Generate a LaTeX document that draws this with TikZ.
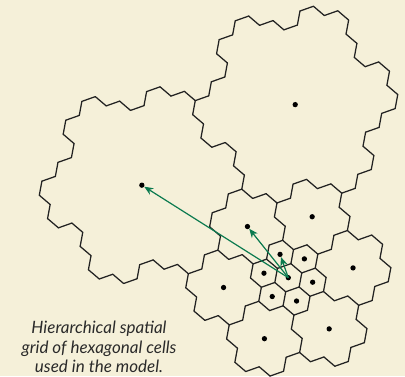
\documentclass[tikz,border=0pt]{standalone}
\usepackage{fontspec}
\newfontfamily\capfont{Lato}
\usetikzlibrary{arrows.meta}

\definecolor{paper}{HTML}{F5F0D9}
\definecolor{ink}{HTML}{222222}
\definecolor{arrowgreen}{HTML}{0B7A4F}
\definecolor{captext}{HTML}{2A2A2A}

% hexagonal lattice: centre spacing, base direction, centre of the root cell
\def\hexd{24.75}
\def\hexth{-10.5}
\def\ox{288.3}
\def\oy{-277.7}
\pgfmathsetmacro\hexR{\hexd/sqrt(3)}
\pgfmathsetmacro\ax{\hexd*cos(\hexth)}
\pgfmathsetmacro\ay{\hexd*sin(\hexth)}
\pgfmathsetmacro\wx{\hexd*cos(\hexth+60)}
\pgfmathsetmacro\wy{\hexd*sin(\hexth+60)}

% the seven members of an aggregate (axial offsets), at level 0 and level 1
\def\Ulist{0/0,1/0,0/1,-1/1,-1/0,0/-1,1/-1}
\def\Blist{0/0,2/1,-1/3,-3/2,-2/-1,1/-3,3/-2}
% level-2 aggregates that are drawn: offset / tag (C = the one subdivided)
\def\Slist{0/0/C,-5/8/U,-8/3/L}

\newcommand\setkey[3]{\expandafter\xdef\csname hk@#1@#2\endcsname{#3}}
\newcommand\drawedge{%
  \pgfmathsetmacro\pa{\hexth+60*\k-30}%
  \pgfmathsetmacro\pb{\hexth+60*\k+30}%
  \draw[hexline] ({\cx+\hexR*cos(\pa)},{\cy+\hexR*sin(\pa)})
    -- ({\cx+\hexR*cos(\pb)},{\cy+\hexR*sin(\pb)});}

\tikzset{
  hexline/.style={draw=ink,line width=1.25pt,line cap=round,line join=round},
  dot/.style={circle,fill=black,inner sep=0pt,minimum size=5.3pt},
  garrow/.style={draw=arrowgreen,line width=1.2pt,
    -{Stealth[length=9pt,width=7.5pt]}},
  caption/.style={text=captext,align=center,
    font=\capfont\itshape\fontsize{17}{19.5}\selectfont}
}

\begin{document}
\begin{tikzpicture}[x=1pt,y=1pt]
\fill[paper] (0,-376) rectangle (405,0);
\useasboundingbox (0,-376) rectangle (405,0);

% region key of every hexagon: single hexes in the root cell,
% level-1 aggregates around it, level-2 aggregates further out
\foreach \sm/\sn/\st in \Slist {
  \foreach \bm/\bn [count=\i from 0] in \Blist {
    \foreach \um/\un [count=\j from 0] in \Ulist {
      \edef\hm{\the\numexpr\sm+\bm+\um\relax}%
      \edef\hn{\the\numexpr\sn+\bn+\un\relax}%
      \if C\st
        \ifnum\i=0 \setkey{\hm}{\hn}{c\j}\else\setkey{\hm}{\hn}{a\i}\fi
      \else
        \setkey{\hm}{\hn}{\st}%
      \fi
    }
  }
}

% boundaries: an edge is drawn where the region key changes
\foreach \sm/\sn/\st in \Slist {
  \foreach \bm/\bn in \Blist {
    \foreach \um/\un in \Ulist {
      \edef\hm{\the\numexpr\sm+\bm+\um\relax}%
      \edef\hn{\the\numexpr\sn+\bn+\un\relax}%
      \edef\kh{\csname hk@\hm @\hn\endcsname}%
      \pgfmathsetmacro\cx{\ox+(\hm)*\ax+(\hn)*\wx}%
      \pgfmathsetmacro\cy{\oy+(\hm)*\ay+(\hn)*\wy}%
      \foreach \dm/\dn [count=\k from 0] in {1/0,0/1,-1/1,-1/0,0/-1,1/-1} {
        \edef\nm{\the\numexpr\hm+\dm\relax}%
        \edef\nn{\the\numexpr\hn+\dn\relax}%
        \ifcsname hk@\nm @\nn\endcsname
          \edef\kn{\csname hk@\nm @\nn\endcsname}%
          \ifx\kh\kn\else
            \ifnum\k<3 \drawedge\fi
          \fi
        \else
          \drawedge
        \fi
      }
    }
  }
}

% cell centres
\foreach \m/\n/\name in {0/0/o,1/0/s1,0/1/s2,-1/1/s3,-1/0/s4,0/-1/s5,1/-1/s6,
    2/1/m1,-1/3/m2,-3/2/m3,-2/-1/m4,1/-3/m5,3/-2/m6,-5/8/bu,-8/3/bl}
  \node[dot] (\name) at ({\ox+(\m)*\ax+(\n)*\wx},{\oy+(\m)*\ay+(\n)*\wy}) {};

% links from the root cell to its parents
\draw[garrow] (o.center) -- (bl);
\draw[garrow] (o.center) -- (m3);
\draw[garrow] (o.center) -- (s3);

\node[caption] (cap) at (99,-347)
  {Hierarchical spatial\\grid of hexagonal cells\\used in the model.};
\end{tikzpicture}
\end{document}
